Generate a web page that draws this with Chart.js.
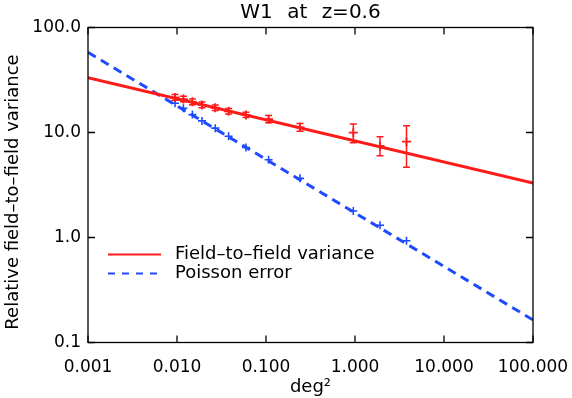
<!DOCTYPE html>
<html>
<head>
<meta charset="utf-8">
<script src="https://cdn.jsdelivr.net/npm/chart.js@4/dist/chart.umd.min.js"></script>
<style>
  html, body { margin: 0; padding: 0; background: #fff; }
</style>
</head>
<body>
<canvas id="myChart" width="572" height="398"></canvas>
<script>
// survey areas (deg^2) and measured values
const areas = [0.0095, 0.0118, 0.0149, 0.0191, 0.0269, 0.038, 0.0596, 0.107, 0.241, 0.957, 1.91, 3.79];
const fieldVar = [21.6, 20.8, 19.6, 18.3, 17.2, 15.9, 14.7, 13.4, 11.2, 9.96, 7.44, 8.17];
const fieldErrLow = [20.3, 19.6, 18.4, 17.2, 16.2, 15.0, 13.9, 12.4, 10.3, 8.0, 6.0, 4.66];
const fieldErrHigh = [23.0, 22.1, 20.8, 19.5, 18.3, 16.9, 15.6, 14.5, 12.2, 12.05, 9.1, 11.6];
const poissonErr = [19.0, 17.0, 14.8, 12.9, 11.0, 9.2, 7.2, 5.5, 3.66, 1.79, 1.31, 0.93];

// fitted power laws, given by their end points
const fitAreas = [0.001, 100];
const fieldFit = [33.3, 3.3];
const poissonFit = [58, 0.164];

const xTickValues = [0.001, 0.01, 0.1, 1, 10, 100];
const xTickLabels = ['0.001', '0.010', '0.100', '1.000', '10.000', '100.000'];
const yTickValues = [0.1, 1, 10, 100];
const yTickLabels = ['0.1', '1.0', '10.0', '100.0'];

const titleText = 'W1 at z=0.6';
const yTitle = 'Relative field\u2013to\u2013field variance';
const legendLabels = ['Field\u2013to\u2013field variance', 'Poisson error'];

const RED = '#ff1a1a';
const BLUE = '#1e4bff';
const FONT = 'DejaVu Sans';

const pts = (xs, ys) => xs.map((x, i) => ({ x: x, y: ys[i] }));

// error bars for the red points
const errorBars = {
  id: 'errorBars',
  afterDatasetsDraw(chart) {
    const { ctx, scales: { x, y } } = chart;
    ctx.save();
    ctx.strokeStyle = RED;
    ctx.lineWidth = 1.5;
    ctx.beginPath();
    areas.forEach((a, i) => {
      const px = x.getPixelForValue(a);
      const lo = y.getPixelForValue(fieldErrLow[i]);
      const hi = y.getPixelForValue(fieldErrHigh[i]);
      ctx.moveTo(px, lo); ctx.lineTo(px, hi);
      ctx.moveTo(px - 3.5, lo); ctx.lineTo(px + 3.5, lo);
      ctx.moveTo(px - 3.5, hi); ctx.lineTo(px + 3.5, hi);
    });
    ctx.stroke();
    ctx.restore();
  }
};

// IDL style box with inward ticks on all sides, plus title and y title
const boxTicks = {
  id: 'boxTicks',
  afterDatasetsDraw(chart) {
    const { ctx, chartArea: a, scales: { x, y } } = chart;
    ctx.save();
    ctx.strokeStyle = '#000';
    ctx.lineWidth = 1.3;
    ctx.strokeRect(a.left, a.top, a.right - a.left, a.bottom - a.top);
    ctx.beginPath();
    xTickValues.forEach(v => {
      const px = x.getPixelForValue(v);
      ctx.moveTo(px, a.bottom); ctx.lineTo(px, a.bottom - 7);
      ctx.moveTo(px, a.top); ctx.lineTo(px, a.top + 7);
    });
    yTickValues.forEach(v => {
      const py = y.getPixelForValue(v);
      ctx.moveTo(a.left, py); ctx.lineTo(a.left + 7, py);
      ctx.moveTo(a.right, py); ctx.lineTo(a.right - 7, py);
    });
    ctx.stroke();

    ctx.fillStyle = '#000';
    ctx.textAlign = 'center';
    ctx.textBaseline = 'middle';
    ctx.font = '20px "' + FONT + '"';
    if ('wordSpacing' in ctx) ctx.wordSpacing = '8px';
    ctx.fillText(titleText, (a.left + a.right) / 2, 13);
    if ('wordSpacing' in ctx) ctx.wordSpacing = '0px';

    ctx.font = '18px "' + FONT + '"';
    ctx.translate(13, (a.top + a.bottom) / 2 + 7);
    ctx.rotate(-Math.PI / 2);
    ctx.fillText(yTitle, 0, 0);
    ctx.restore();
  }
};

// legend inside the plot, lower left
const insideLegend = {
  id: 'insideLegend',
  afterDraw(chart) {
    const { ctx, chartArea: a } = chart;
    const x0 = a.left + 20, x1 = a.left + 73, tx = a.left + 87;
    const rows = [
      { y: a.top + 227, color: RED, dash: [] },
      { y: a.top + 246, color: BLUE, dash: [7, 7] }
    ];
    ctx.save();
    ctx.font = '18px "' + FONT + '"';
    ctx.textBaseline = 'middle';
    ctx.fillStyle = '#000';
    rows.forEach((r, i) => {
      ctx.strokeStyle = r.color;
      ctx.lineWidth = 2;
      ctx.setLineDash(r.dash);
      ctx.beginPath();
      ctx.moveTo(x0, r.y); ctx.lineTo(x1, r.y);
      ctx.stroke();
      ctx.fillText(legendLabels[i], tx, r.y);
    });
    ctx.restore();
  }
};

const ctx = document.getElementById('myChart').getContext('2d');
const myChart = new Chart(ctx, {
  type: 'scatter',
  data: {
    datasets: [{
      label: legendLabels[0],
      data: pts(fitAreas, fieldFit),
      showLine: true,
      borderColor: RED,
      borderWidth: 3,
      pointRadius: 0
    }, {
      label: legendLabels[1],
      data: pts(fitAreas, poissonFit),
      showLine: true,
      borderColor: BLUE,
      borderWidth: 3,
      borderDash: [9, 6],
      pointRadius: 0
    }, {
      data: pts(areas, fieldVar),
      pointStyle: 'cross',
      pointRadius: 4.5,
      borderColor: RED,
      borderWidth: 1.8
    }, {
      data: pts(areas, poissonErr),
      pointStyle: 'cross',
      pointRadius: 4,
      borderColor: BLUE,
      borderWidth: 1.6
    }]
  },
  options: {
    responsive: false,
    animation: false,
    devicePixelRatio: 1,
    layout: { autoPadding: false, padding: { left: 0, right: 39, top: 27.5, bottom: 0 } },
    plugins: {
      legend: { display: false },
      tooltip: { enabled: false },
      title: { display: false }
    },
    scales: {
      x: {
        type: 'logarithmic',
        min: 0.001,
        max: 100,
        afterBuildTicks: s => { s.ticks = xTickValues.map(v => ({ value: v })); },
        afterFit: s => { s.height = 55.5; s.paddingLeft = 0; s.paddingRight = 0; },
        grid: { display: false, drawTicks: false },
        border: { display: false },
        ticks: {
          color: '#000',
          padding: 15,
          maxRotation: 0,
          font: { family: FONT, size: 17 },
          callback: (v, i) => xTickLabels[i]
        },
        title: {
          display: true,
          text: 'deg\u00b2',
          color: '#000',
          font: { family: FONT, size: 18, lineHeight: 1.2 },
          padding: { top: 0, bottom: 0 }
        }
      },
      y: {
        type: 'logarithmic',
        min: 0.1,
        max: 100,
        afterBuildTicks: s => { s.ticks = yTickValues.map(v => ({ value: v })); },
        afterFit: s => { s.width = 88; s.paddingTop = 0; s.paddingBottom = 0; },
        grid: { display: false, drawTicks: false },
        border: { display: false },
        ticks: {
          color: '#000',
          padding: 7,
          font: { family: FONT, size: 17 },
          callback: (v, i) => yTickLabels[i]
        }
      }
    }
  },
  plugins: [errorBars, boxTicks, insideLegend]
});
</script>
</body>
</html>
